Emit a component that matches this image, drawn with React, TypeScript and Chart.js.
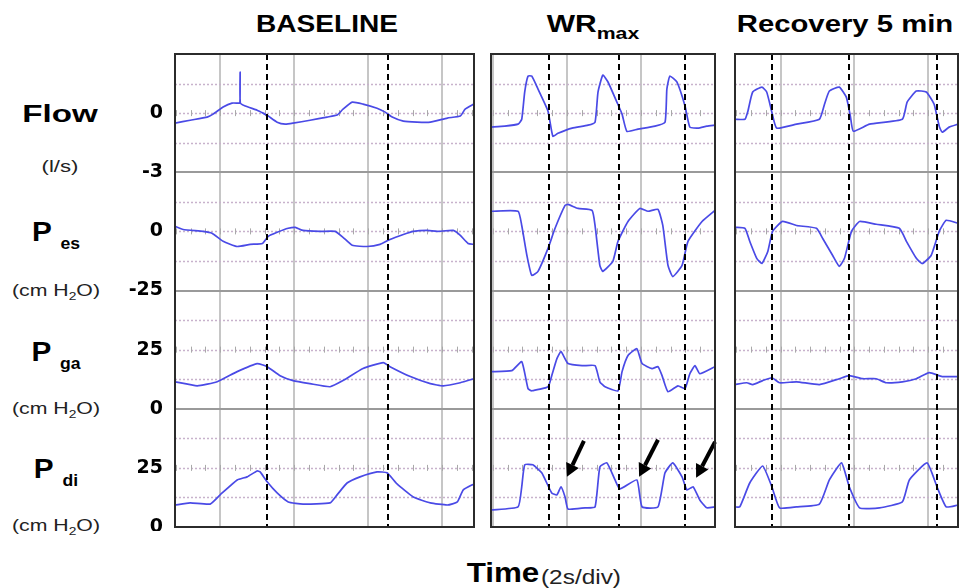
import React, { useEffect, useRef } from "react";
import { Chart, registerables } from "chart.js";

Chart.register(...registerables);

type Pt = [number, number];

// ---- axis ranges & tick labels ----
const flowRange: Pt = [-3, 3];
const pesRange: Pt = [-25, 25];
const pgaRange: Pt = [0, 50];
const pdiRange: Pt = [0, 50];
const flowTicks = [0, -3];
const pesTicks = [0, -25];
const pgaTicks = [25, 0];
const pdiTicks = [25, 0];

// ---- BASELINE (time s, value) ----
const baselineFlow: Pt[] = [
  [-1.22, -0.51], [-0.81, -0.36], [-0.35, -0.2], [-0.19, -0.05], [0.08, 0.31], [0.32, 0.51],
  [0.49, 0.51], [0.535, 0.52], [0.54, 2.08], [0.545, 0.52], [0.68, 0.36], [1.0, 0.15],
  [1.16, 0], [1.3, -0.15], [1.54, -0.46], [1.76, -0.56], [1.97, -0.51], [2.43, -0.36],
  [2.89, -0.2], [3.16, -0.1], [3.32, 0.2], [3.57, 0.56], [3.86, 0.46], [4.24, 0.25],
  [4.46, 0.05], [4.65, -0.2], [4.95, -0.41], [5.32, -0.46], [5.68, -0.46], [6.14, -0.25],
  [6.49, -0.15], [6.62, 0.2], [6.86, 0.46],
];
const baselinePes: Pt[] = [
  [-1.22, 2.1], [-1.0, 0.8], [-0.46, 0], [-0.22, -0.8], [0.08, -4.2], [0.46, -6.4],
  [0.81, -5.5], [1.14, -5.1], [1.3, -2.1], [1.54, -0.4], [1.84, 1.3], [2.03, 1.7],
  [2.24, 0.4], [2.7, 0], [3.11, 0], [3.32, -2.5], [3.57, -5.9], [3.97, -6.4],
  [4.32, -5.5], [4.59, -3.4], [4.95, -1.3], [5.22, 0], [5.59, 0.4], [5.86, 0],
  [6.3, 0.4], [6.49, -1.7], [6.7, -5.1], [6.86, -5.5],
];
const baselinePga: Pt[] = [
  [-1.22, 11.4], [-0.62, 9.7], [-0.08, 11.4], [0.46, 15.7], [1.0, 19.1], [1.27, 17.8],
  [1.62, 14.0], [1.97, 11.9], [2.43, 10.6], [2.97, 9.3], [3.32, 11.9], [3.86, 17.0],
  [4.41, 19.5], [4.59, 17.8], [5.14, 13.6], [5.68, 10.6], [6.03, 9.7], [6.49, 11.0],
  [6.86, 12.7],
];
const baselinePdi: Pt[] = [
  [-1.22, 9.3], [-0.81, 10.2], [-0.27, 9.7], [0, 13.6], [0.46, 19.9], [0.73, 21.2],
  [1.0, 23.7], [1.08, 23.3], [1.27, 19.1], [1.54, 14.4], [1.84, 10.6], [2.24, 9.7],
  [2.97, 10.2], [3.16, 13.6], [3.43, 18.6], [3.78, 21.2], [4.24, 23.3], [4.51, 22.9],
  [4.78, 18.2], [5.22, 12.7], [5.68, 10.2], [6.14, 9.3], [6.41, 10.6], [6.57, 15.7],
  [6.86, 18.2],
];
const baselineMarkers = [1.27, 4.54];

// ---- WRmax ----
const wrFlow: Pt[] = [
  [-2.05, -0.71], [-1.68, -0.66], [-1.32, -0.56], [-1.22, -0.31], [-1.14, 1.07], [-1.05, 1.88],
  [-0.95, 1.88], [-0.78, 1.22], [-0.51, 0.1], [-0.38, -1.17], [-0.24, -1.02], [0.14, -0.76],
  [0.57, -0.61], [0.76, -0.46], [0.84, 1.07], [0.97, 1.93], [1.11, 1.58], [1.35, 0.56],
  [1.49, -0.05], [1.62, -0.92], [1.92, -0.81], [2.38, -0.66], [2.65, -0.46], [2.7, 1.22],
  [2.78, 1.88], [2.97, 1.58], [3.19, 0.36], [3.32, -0.71], [3.54, -0.76], [3.78, -0.66],
  [4.0, -0.61],
];
const wrPes: Pt[] = [
  [-2.05, 8.5], [-1.32, 8.5], [-1.22, 2.5], [-1.08, -10.2], [-0.95, -18.6], [-0.78, -16.9],
  [-0.51, -7.2], [-0.32, 1.3], [-0.05, 11.0], [0.03, 11.4], [0.3, 9.7], [0.68, 8.9],
  [0.76, 2.5], [0.89, -14.4], [0.97, -16.9], [1.24, -12.7], [1.38, -4.2], [1.65, 4.2],
  [1.97, 9.7], [2.19, 8.5], [2.46, 9.3], [2.59, 2.5], [2.73, -14.4], [2.86, -19.1],
  [3.11, -14.4], [3.27, -4.2], [3.65, 4.2], [4.0, 8.9],
];
const wrPga: Pt[] = [
  [-2.05, 15.7], [-1.49, 16.1], [-1.22, 19.9], [-1.05, 8.5], [-0.95, 7.6], [-0.51, 9.3],
  [-0.41, 14.0], [-0.27, 21.2], [-0.16, 24.2], [0.03, 19.1], [0.41, 18.2], [0.76, 18.2],
  [0.89, 11.4], [1.03, 9.3], [1.38, 7.6], [1.49, 15.7], [1.65, 22.5], [1.89, 25.4],
  [2.03, 19.1], [2.3, 17.0], [2.46, 17.8], [2.57, 14.0], [2.73, 7.2], [3.0, 9.7],
  [3.19, 8.5], [3.32, 14.8], [3.46, 18.2], [3.59, 14.8], [4.0, 17.8],
];
const wrPdi: Pt[] = [
  [-2.05, 7.2], [-1.32, 8.5], [-1.22, 17.0], [-1.14, 26.3], [-0.92, 26.3], [-0.68, 22.9],
  [-0.41, 14.4], [-0.27, 13.6], [-0.16, 17.0], [-0.05, 12.7], [0.03, 7.6], [0.49, 8.1],
  [0.76, 8.5], [0.89, 25.4], [1.08, 27.1], [1.3, 19.9], [1.43, 16.1], [1.89, 19.9],
  [2.03, 8.5], [2.46, 8.5], [2.65, 22.9], [2.86, 27.1], [3.11, 21.2], [3.24, 15.7],
  [3.41, 17.0], [3.59, 11.4], [3.78, 8.1], [4.0, 8.5],
];
const wrMarkers = [-0.49, 1.41, 3.19];
// arrows on Pdi: [tail time, tail value, head time, head value]
const wrArrows: number[][] = [
  [0.46, 36.4, 0.0, 21.2],
  [2.46, 36.9, 1.95, 21.2],
  [4.0, 36.0, 3.49, 20.8],
];

// ---- Recovery 5 min ----
const recFlow: Pt[] = [
  [-1.24, -0.31], [-0.97, -0.31], [-0.89, 0.1], [-0.76, 1.07], [-0.51, 1.32], [-0.38, 1.07],
  [-0.24, 0.05], [-0.11, -0.76], [0.43, -0.56], [1.05, -0.31], [1.19, 0.46], [1.32, 1.12],
  [1.59, 1.32], [1.78, 0.81], [1.89, -0.15], [1.97, -0.92], [2.41, -0.56], [3.3, -0.31],
  [3.43, 0.56], [3.68, 1.12], [3.95, 1.07], [4.16, 0.46], [4.3, -0.66], [4.38, -0.97],
  [4.57, -0.71], [4.81, -0.56],
];
const recPes: Pt[] = [
  [-1.24, 1.7], [-0.97, 1.3], [-0.84, -4.2], [-0.65, -11.4], [-0.51, -13.6], [-0.35, -8.5],
  [-0.22, 0], [0.05, 4.2], [0.43, 2.5], [0.97, 1.3], [1.14, -3.0], [1.41, -10.2],
  [1.59, -14.8], [1.73, -11.4], [1.92, 0], [2.14, 4.2], [2.59, 3.0], [3.22, 1.3],
  [3.41, -4.2], [3.68, -11.4], [3.84, -13.6], [4.08, -10.2], [4.3, 0], [4.49, 4.7],
  [4.81, 3.4],
];
const recPga: Pt[] = [
  [-1.24, 10.2], [-0.92, 11.0], [-0.76, 10.2], [-0.49, 11.9], [-0.24, 13.1], [-0.03, 11.0],
  [0.43, 11.4], [1.05, 10.2], [1.59, 12.7], [1.86, 14.0], [2.22, 12.7], [2.59, 12.7],
  [2.86, 11.0], [3.3, 11.4], [3.68, 12.7], [4.03, 15.3], [4.38, 13.6], [4.81, 13.6],
];
const recPdi: Pt[] = [
  [-1.24, 8.5], [-1.11, 8.5], [-0.84, 18.6], [-0.49, 25.8], [-0.24, 17.0], [-0.03, 8.1],
  [0.43, 8.5], [1.05, 9.7], [1.32, 19.9], [1.65, 27.1], [1.86, 17.0], [2.14, 8.1],
  [2.68, 8.1], [3.3, 10.6], [3.49, 19.9], [3.97, 27.1], [4.24, 17.0], [4.49, 8.5],
  [4.81, 9.3],
];
const recMarkers = [-0.24, 1.86, 4.24];

const TRACE = "#4a4ae6";

type PanelDef = {
  key: string;
  xRange: Pt;
  flow: Pt[];
  pes: Pt[];
  pga: Pt[];
  pdi: Pt[];
  markers: number[];
  arrows: number[][];
  showTicks: boolean;
  left: number;
  width: number;
  padLeft: number;
  padRight: number;
};

const panelDefs: PanelDef[] = [
  { key: "baseline", xRange: [-1.22, 6.86], flow: baselineFlow, pes: baselinePes, pga: baselinePga, pdi: baselinePdi,
    markers: baselineMarkers, arrows: [], showTicks: true, left: 100, width: 378, padLeft: 0, padRight: 4 },
  { key: "wr", xRange: [-2.05, 4.0], flow: wrFlow, pes: wrPes, pga: wrPga, pdi: wrPdi,
    markers: wrMarkers, arrows: wrArrows, showTicks: false, left: 487, width: 232, padLeft: 4, padRight: 4 },
  { key: "rec", xRange: [-1.24, 4.81], flow: recFlow, pes: recPes, pga: recPga, pdi: recPdi,
    markers: recMarkers, arrows: [], showTicks: false, left: 731, width: 230, padLeft: 4, padRight: 3 },
];

const CANVAS_TOP = 50;
const CANVAS_H = 481;

function decorPlugin(def: PanelDef) {
  const ids = ["flow", "pes", "pga", "pdi"];
  return {
    id: "decor_" + def.key,
    beforeDatasetsDraw(chart: any) {
      const { ctx, chartArea: a, scales } = chart;
      const x = scales.x;
      const seg = (x1: number, y1: number, x2: number, y2: number) => {
        ctx.beginPath(); ctx.moveTo(x1, y1); ctx.lineTo(x2, y2); ctx.stroke();
      };
      ctx.save();
      ctx.fillStyle = "#ffffff";
      ctx.fillRect(a.left, a.top, a.right - a.left, a.bottom - a.top);
      // vertical grid every 2 s
      ctx.strokeStyle = "#c6c6c6";
      ctx.lineWidth = 2;
      for (let t = Math.ceil(x.min / 2) * 2; t <= x.max + 1e-6; t += 2) {
        const px = Math.round(x.getPixelForValue(t));
        seg(px, a.top, px, a.bottom);
      }
      ids.forEach((id, i) => {
        const s = scales[id];
        const q = (s.max - s.min) / 4;
        ctx.setLineDash([2, 2]);
        ctx.strokeStyle = "#c8b2cc";
        ctx.lineWidth = 1.5;
        for (let k = 1; k <= 3; k++) {
          const py = Math.round(s.getPixelForValue(s.min + k * q)) + 0.5;
          seg(a.left, py, a.right, py);
        }
        ctx.setLineDash([]);
        const mid = s.getPixelForValue(s.min + 2 * q);
        ctx.strokeStyle = "#a9a9a9";
        ctx.lineWidth = 1;
        for (let n = Math.ceil(x.min / 0.4); n * 0.4 <= x.max; n++) {
          const px = Math.round(x.getPixelForValue(n * 0.4)) + 0.5;
          seg(px, mid - 3, px, mid + 3);
        }
        if (i < 3) {
          ctx.strokeStyle = "#9a9a9a";
          ctx.lineWidth = 2;
          const py = Math.round(s.getPixelForValue(s.min));
          seg(a.left, py, a.right, py);
        }
      });
      ctx.restore();
    },
    afterDatasetsDraw(chart: any) {
      const { ctx, chartArea: a, scales } = chart;
      const x = scales.x;
      const seg = (x1: number, y1: number, x2: number, y2: number) => {
        ctx.beginPath(); ctx.moveTo(x1, y1); ctx.lineTo(x2, y2); ctx.stroke();
      };
      ctx.save();
      // event markers
      ctx.strokeStyle = "#000";
      ctx.lineWidth = 2;
      ctx.setLineDash([6, 4]);
      def.markers.forEach((t) => {
        const px = Math.round(x.getPixelForValue(t));
        seg(px, a.top, px, a.bottom);
      });
      ctx.setLineDash([]);
      // arrows
      ctx.fillStyle = "#000";
      def.arrows.forEach(([t1, v1, t2, v2]) => {
        const x1 = x.getPixelForValue(t1), y1 = scales.pdi.getPixelForValue(v1);
        const x2 = x.getPixelForValue(t2), y2 = scales.pdi.getPixelForValue(v2);
        const ang = Math.atan2(y2 - y1, x2 - x1);
        const head = 13, hw = 7;
        const bx = x2 - head * Math.cos(ang), by = y2 - head * Math.sin(ang);
        ctx.lineWidth = 4;
        seg(x1, y1, bx, by);
        ctx.beginPath();
        ctx.moveTo(x2, y2);
        ctx.lineTo(bx + hw * Math.sin(ang), by - hw * Math.cos(ang));
        ctx.lineTo(bx - hw * Math.sin(ang), by + hw * Math.cos(ang));
        ctx.closePath();
        ctx.fill();
      });
      // panel border
      ctx.strokeStyle = "#2b2b2b";
      ctx.lineWidth = 2;
      ctx.strokeRect(a.left, a.top, a.right - a.left, a.bottom - a.top);
      ctx.restore();
    },
  };
}

function buildConfig(def: PanelDef): any {
  const yAxis = (range: Pt, ticks: number[], weight: number) => ({
    type: "linear",
    min: range[0],
    max: range[1],
    position: "left",
    stack: "rows",
    stackWeight: 1,
    weight,
    display: true,
    grid: { display: false, drawTicks: false },
    border: { display: false },
    afterBuildTicks: (s: any) => {
      s.ticks = ticks.map((v) => ({ value: v }));
    },
    afterFit: (s: any) => {
      s.width = def.showTicks ? 75 : 0;
      s.paddingTop = 0;
      s.paddingBottom = 0;
      s.paddingLeft = 0;
      s.paddingRight = 0;
    },
    ticks: {
      display: def.showTicks,
      padding: 12,
      color: "#000",
      autoSkip: false,
      maxRotation: 0,
      font: { family: "'DejaVu Sans', sans-serif", weight: "bold", size: 19 },
      callback: (v: any) => String(v),
    },
  });
  const ds = (data: Pt[], yAxisID: string) => ({
    data: data.map(([t, v]) => ({ x: t, y: v })),
    yAxisID,
    xAxisID: "x",
    borderColor: TRACE,
    borderWidth: 1.7,
    pointRadius: 0,
    tension: 0.15,
    fill: false,
  });
  return {
    type: "line",
    data: {
      datasets: [ds(def.flow, "flow"), ds(def.pes, "pes"), ds(def.pga, "pga"), ds(def.pdi, "pdi")],
    },
    options: {
      animation: false,
      responsive: false,
      devicePixelRatio: 1,
      events: [],
      layout: { padding: { top: 4, bottom: 4, left: def.padLeft, right: def.padRight } },
      plugins: { legend: { display: false }, tooltip: { enabled: false }, title: { display: false } },
      scales: {
        x: { type: "linear", min: def.xRange[0], max: def.xRange[1], display: false },
        flow: yAxis(flowRange, flowTicks, 4),
        pes: yAxis(pesRange, pesTicks, 3),
        pga: yAxis(pgaRange, pgaTicks, 2),
        pdi: yAxis(pdiRange, pdiTicks, 1),
      },
    },
    plugins: [decorPlugin(def)],
  };
}

function Panel({ def }: { def: PanelDef }) {
  const ref = useRef<HTMLCanvasElement>(null);
  useEffect(() => {
    const chart = new Chart(ref.current as HTMLCanvasElement, buildConfig(def));
    return () => chart.destroy();
  }, [def]);
  return (
    <canvas
      ref={ref}
      width={def.width}
      height={CANVAS_H}
      style={{ position: "absolute", left: def.left, top: CANVAS_TOP, width: def.width, height: CANVAS_H }}
    />
  );
}

function Txt(props: { x: number; y: number; size: number; bold?: boolean; sx?: number; color?: string; children: any }) {
  const { x, y, size, bold, sx = 1.2, color = "#000", children } = props;
  return (
    <div
      style={{
        position: "absolute",
        left: x,
        top: y,
        transform: `translate(-50%, -50%) scaleX(${sx})`,
        fontSize: size,
        fontWeight: bold ? "bold" : "normal",
        whiteSpace: "nowrap",
        lineHeight: 1,
        color,
      }}
    >
      {children}
    </div>
  );
}

function PLabel({ y, sub }: { y: number; sub: string }) {
  return (
    <Txt x={56} y={y} size={27} bold sx={1.1}>
      <span>P</span>
      <span style={{ fontSize: 16, position: "relative", top: 8, marginLeft: 8 }}>{sub}</span>
    </Txt>
  );
}

function Unit({ y }: { y: number }) {
  return (
    <Txt x={56} y={y} size={17} sx={1.25} color="#222">
      (cm H<span style={{ fontSize: 11, position: "relative", top: 4 }}>2</span>O)
    </Txt>
  );
}

export default function App() {
  return (
    <div
      style={{
        position: "absolute",
        left: 0,
        top: 0,
        width: 961,
        height: 588,
        overflow: "hidden",
        background: "#fff",
        fontFamily: "'Liberation Sans', Arial, sans-serif",
        color: "#000",
      }}
    >
      <Txt x={327} y={24} size={24} bold sx={1.17}>BASELINE</Txt>
      <Txt x={593} y={24} size={24} bold sx={1.25}>
        WR<span style={{ fontSize: 17, position: "relative", top: 7 }}>max</span>
      </Txt>
      <Txt x={845} y={24} size={24} bold sx={1.22}>Recovery 5 min</Txt>

      <Txt x={60} y={114} size={24} bold sx={1.38}>Flow</Txt>
      <Txt x={60} y={166} size={17} sx={1.3} color="#222">(l/s)</Txt>
      <PLabel y={232} sub="es" />
      <Unit y={290} />
      <PLabel y={352} sub="ga" />
      <Unit y={408} />
      <PLabel y={469} sub="di" />
      <Unit y={525} />

      <Txt x={503} y={573} size={28} bold sx={1.12}>Time</Txt>
      <Txt x={581} y={577} size={20} sx={1.22} color="#222">(2s/div)</Txt>

      {panelDefs.map((d) => (
        <Panel key={d.key} def={d} />
      ))}
    </div>
  );
}
